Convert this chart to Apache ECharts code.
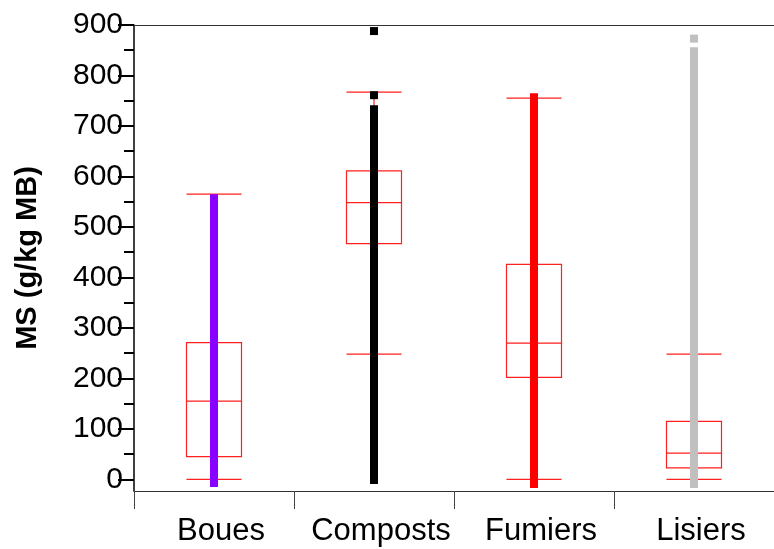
<!DOCTYPE html>
<html>
<head>
<meta charset="utf-8">
<script src="https://cdn.jsdelivr.net/npm/echarts@6/dist/echarts.min.js"></script>
<style>html,body{margin:0;padding:0;background:#fff;}#c{width:774px;height:549px;}</style>
</head>
<body>
<div id="c"></div>
<script>
// ---- data ----
var categories = ['Boues', 'Composts', 'Fumiers', 'Lisiers'];
// [lower whisker, Q1, median, Q3, upper whisker]
var boxBoues    = [0, 45, 155, 271, 565];
var boxComposts = [248, 467, 548, 611, 767];
var boxFumiers  = [0, 202, 270, 426, 755];
var boxLisiers  = [0, 23, 52, 115, 248];
// extent of the dense observation strips [min, max]
var stripBoues    = [-15, 565];
var stripComposts = [-9, 741];
var stripFumiers  = [-17, 765];
var stripLisiers  = [-17, 856];
// isolated points
var pointsComposts = [761, 888];
var pointsLisiers  = [873];
// axis
var yTicks = [0, 100, 200, 300, 400, 500, 600, 700, 800, 900];
var yMinorTicks = [50, 150, 250, 350, 450, 550, 650, 750, 850];
var yMin = -23, yMax = 900;

var stripColors = ['#8800ff', '#000000', '#ff0000', '#c0c0c0'];
var strips = [stripBoues, stripComposts, stripFumiers, stripLisiers];

var series = [{
  type: 'boxplot',
  data: [boxBoues, boxComposts, boxFumiers, boxLisiers],
  boxWidth: [55, 55],
  itemStyle: { color: 'rgba(0,0,0,0)', borderColor: '#ff2020', borderWidth: 1.2 },
  emphasis: { disabled: true },
  z: 5
}];
strips.forEach(function (s, i) {
  series.push({
    type: 'line',
    data: [[categories[i], s[0]], [categories[i], s[1]]],
    symbol: 'none',
    lineStyle: { color: stripColors[i], width: 8, cap: 'butt' },
    emphasis: { disabled: true },
    z: 6
  });
});
series.push({
  type: 'scatter',
  data: pointsComposts.map(function (v) { return ['Composts', v]; }),
  symbol: 'rect', symbolSize: 8,
  itemStyle: { color: '#000000', opacity: 1 }, z: 7
});
series.push({
  type: 'scatter',
  data: pointsLisiers.map(function (v) { return ['Lisiers', v]; }),
  symbol: 'rect', symbolSize: 8,
  itemStyle: { color: '#c0c0c0', opacity: 1 }, z: 7
});

var chart = echarts.init(document.getElementById('c'), null, { renderer: 'canvas' });
chart.setOption({
  animation: false,
  backgroundColor: '#ffffff',
  grid: { left: 134, top: 25, width: 644, height: 466 },
  xAxis: [{
    type: 'category',
    data: categories,
    boundaryGap: true,
    position: 'bottom',
    axisLine: { show: true, onZero: false, lineStyle: { color: '#333', width: 1 } },
    axisTick: { show: true, interval: 0, length: 18, lineStyle: { color: '#444' } },
    axisLabel: { interval: 0, color: '#000', fontSize: 31, fontFamily: 'Liberation Sans, Arial', margin: 25, padding: [0, 0, 0, 14] },
    splitLine: { show: false }
  }, {
    type: 'category',
    data: categories,
    position: 'top',
    axisLine: { show: true, onZero: false, lineStyle: { color: '#333', width: 1 } },
    axisTick: { show: false },
    axisLabel: { show: false }
  }],
  yAxis: [{
    type: 'value',
    min: yMin, max: yMax,
    position: 'left',
    name: 'MS (g/kg MB)',
    nameLocation: 'middle',
    nameGap: 92,
    nameRotate: 90,
    nameTextStyle: { color: '#000', fontSize: 29, fontWeight: 'bold', fontFamily: 'Liberation Sans, Arial' },
    axisLine: { show: true, lineStyle: { color: '#000', width: 1.5 } },
    axisTick: { show: true, length: 16, customValues: yTicks, lineStyle: { color: '#000', width: 2 } },
    axisLabel: { customValues: yTicks, color: '#000', fontSize: 30, fontFamily: 'Liberation Sans, Arial', margin: 11 },
    splitLine: { show: false }
  }, {
    type: 'value',
    min: yMin, max: yMax,
    position: 'left',
    axisLine: { show: false },
    axisTick: { show: true, length: 10, customValues: yMinorTicks, lineStyle: { color: '#000', width: 2 } },
    axisLabel: { show: false },
    splitLine: { show: false }
  }],
  series: series
});
</script>
</body>
</html>
